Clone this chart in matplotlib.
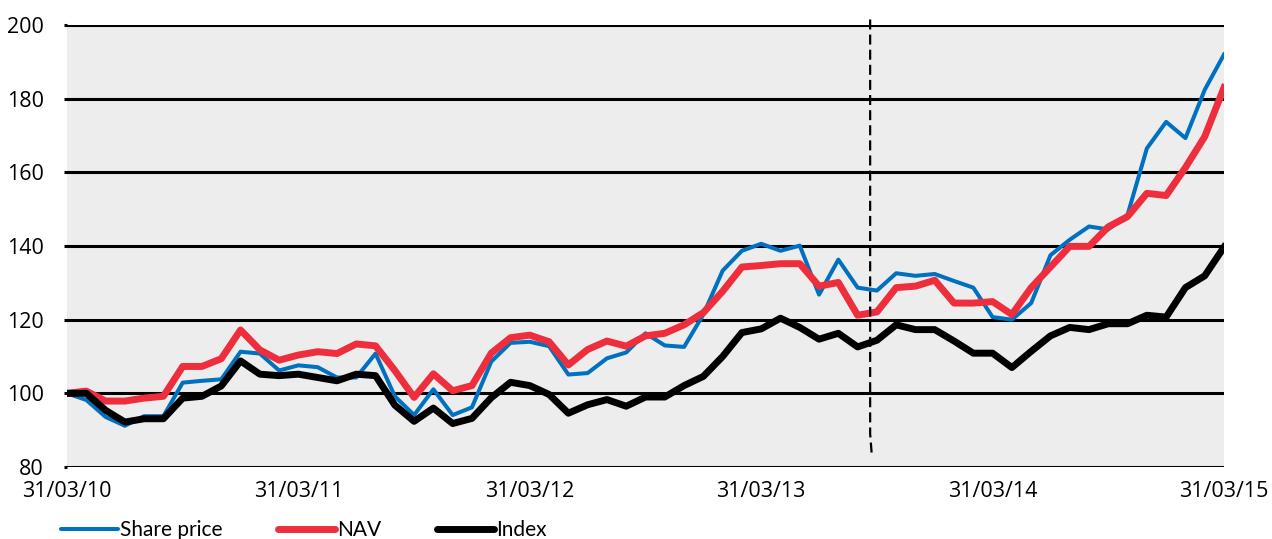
import numpy as np
import matplotlib
matplotlib.use("Agg")
from matplotlib import pyplot as plt

# monthly rebased values, 31/03/10 = 100
share_price = [100, 98.2, 93.6, 91.2, 93.8, 93.8, 102.9, 103.4, 103.8, 111.3,
               110.8, 106.2, 107.6, 107.1, 104.3, 104.3, 110.8, 99.2, 94.1, 101.1,
               94.1, 96.2, 108.6, 113.7, 114.0, 112.8, 105.1, 105.5, 109.5, 111.1,
               116.3, 113.0, 112.6, 121.4, 133.3, 138.7, 140.6, 138.7, 140.1, 126.8,
               136.3, 128.7, 127.9, 132.6, 131.9, 132.4, 130.5, 128.7, 120.7, 120.0,
               124.5, 137.5, 141.7, 145.3, 144.5, 148.5, 166.5, 173.7, 169.3, 182.4,
               192.0]
nav = [100, 100.6, 97.9, 97.9, 98.7, 99.2, 107.3, 107.3, 109.4, 117.2,
       111.8, 109.0, 110.4, 111.3, 110.8, 113.4, 112.9, 106.2, 98.9, 105.3,
       100.7, 102.1, 110.9, 115.1, 115.8, 114.0, 107.7, 111.9, 114.2, 112.8,
       115.6, 116.3, 118.6, 121.9, 127.7, 134.3, 134.7, 135.2, 135.2, 129.1,
       130.1, 121.2, 122.1, 128.7, 129.1, 130.7, 124.5, 124.5, 124.9, 121.4,
       128.7, 134.3, 139.9, 139.9, 145.2, 148.0, 154.3, 153.7, 161.3, 169.7,
       183.0]
index = [100, 100, 95.4, 92.2, 93.1, 93.1, 98.7, 99.2, 102.0, 108.8,
         105.2, 104.8, 105.2, 104.3, 103.4, 105.2, 104.8, 96.8, 92.4, 96.0,
         91.8, 93.2, 98.8, 103.0, 102.1, 99.7, 94.6, 96.9, 98.3, 96.5,
         99.0, 99.0, 102.1, 104.6, 110.0, 116.5, 117.5, 120.4, 117.9, 114.7,
         116.3, 112.6, 114.4, 118.6, 117.3, 117.3, 114.2, 110.9, 110.9, 107.0,
         111.4, 115.6, 117.9, 117.3, 118.9, 118.9, 121.2, 120.7, 128.7, 131.9,
         139.7]
year_labels = ["31/03/10", "31/03/11", "31/03/12", "31/03/13", "31/03/14", "31/03/15"]
marker_month = 41.65

plt.rcParams['font.family'] = ['Open Sans', 'DejaVu Sans']

fig = plt.figure(figsize=(12.72, 5.39), dpi=100)
ax = fig.add_axes([67 / 1272, 1 - 467 / 539, (1224 - 67) / 1272, (467 - 25) / 539])
ax.set_facecolor('#ededed')

months = np.arange(len(share_price))
ax.plot(months, share_price, color='#0070c0', lw=2.9, label='Share price', zorder=3)
ax.plot(months, nav, color='#ee2e3c', lw=5.0, label='NAV', zorder=4)
ax.plot(months, index, color='black', lw=5.0, label='Index', zorder=5)

# dashed marker line
ax.plot([marker_month, marker_month, marker_month + 0.09],
        [201.5, 89.0, 82.9], color='black', lw=1.6,
        linestyle=(0, (4.5, 2.3)), clip_on=False, zorder=6)

ax.set_xlim(0, 60)
ax.set_ylim(80, 200)
ax.set_yticks(np.arange(80, 201, 20))
ax.set_xticks(np.arange(0, 61, 12))
ax.set_xticklabels(year_labels)

for s in ax.spines.values():
    s.set_visible(False)
ax.yaxis.grid(True, color='black', lw=2.2)
ax.set_axisbelow(True)
ax.tick_params(axis='y', length=2, width=2.2, color='black', pad=14.5, labelsize=15.5)
ax.tick_params(axis='x', length=0, pad=10, labelsize=15.5)

leg = fig.legend(loc='center left', bbox_to_anchor=(61 / 1272, 1 - 530 / 539),
                 ncol=3, frameon=False, prop={'family': 'Lato', 'size': 15},
                 handlelength=2.75, handletextpad=0.1, columnspacing=2.65,
                 borderpad=0, borderaxespad=0)
for h in leg.get_lines():
    h.set_solid_capstyle('round')

plt.savefig('out.png', dpi=100)
plt.close()
